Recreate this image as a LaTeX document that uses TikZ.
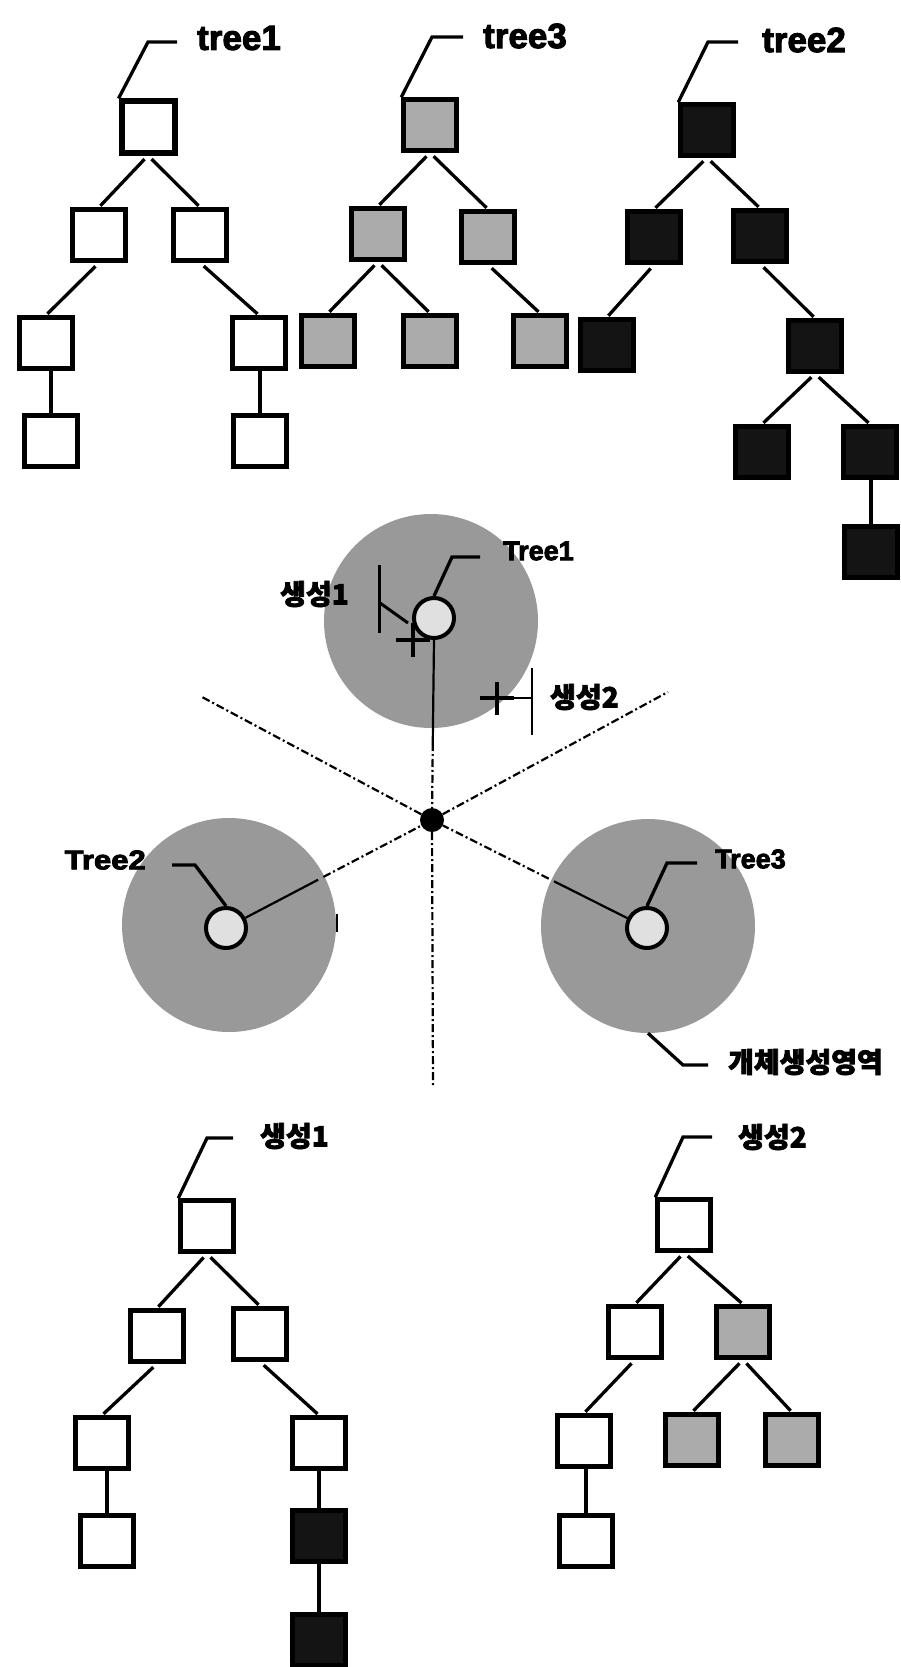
\documentclass[tikz,border=0pt]{standalone}
\usepackage{fontspec}
\setmainfont{Liberation Sans}[BoldFeatures={FakeBold=3}]
\newfontfamily\kr{Noto Sans CJK KR}[BoldFeatures={FakeBold=2.5}]
\usetikzlibrary{calc}
\begin{document}
\begin{tikzpicture}[x=1pt,y=-1pt,
  box/.style={rectangle, draw, line width=4.5pt, minimum width=53pt, minimum height=51pt, inner sep=0pt},
  wb/.style={box, fill=white},
  gb/.style={box, fill=black!33},
  kb/.style={box, fill=black!92},
  edge/.style={line width=3.3pt, shorten <=5pt, shorten >=2pt},
  vedge/.style={line width=3.8pt},
  lead/.style={line width=3.3pt},
  lbl/.style={font=\bfseries\fontsize{35}{40}\selectfont, inner sep=0pt, anchor=west},
  krl/.style={font=\kr\bfseries\fontsize{28}{32}\selectfont, inner sep=0pt},
  midl/.style={font=\bfseries\fontsize{27}{30}\selectfont, inner sep=0pt},
  zone/.style={circle, fill=black!40, minimum size=214pt, inner sep=0pt},
  seed/.style={circle, draw, line width=4pt, fill=black!12, minimum size=40pt, inner sep=0pt},
  ray/.style={line width=2.2pt, dash pattern=on 8pt off 3pt on 2pt off 3pt},
  thinline/.style={line width=2.2pt},
  crossmark/.style={line width=4.5pt}
]
\fill[white] (0,0) rectangle (901,1667);
\useasboundingbox (0,0) rectangle (901,1667);

% ---------- tree1 ----------
\node[wb, line width=6pt] (t1r) at (148,127) {};
\node[wb] (t1a) at (99,235) {};
\node[wb] (t1b) at (200,235) {};
\node[wb] (t1c) at (46,343) {};
\node[wb] (t1d) at (259,343) {};
\node[wb] (t1e) at (51,441) {};
\node[wb] (t1f) at (260,441) {};
\draw[edge] (t1r.south) -- (t1a.north);
\draw[edge] (t1r.south) -- (t1b.north);
\draw[edge] (t1a.south) -- (t1c.north);
\draw[edge] (t1b.south) -- (t1d.north);
\draw[vedge] (t1e.north) -- (t1e.north |- t1c.south);
\draw[vedge] (t1f.north) -- (t1f.north |- t1d.south);
\node[lbl] (L1) at (197,38) {tree1};
\coordinate (L1a) at (148,42);
\coordinate (L1b) at (177,42);
\draw[lead] (t1r.north west) -- (L1a) -- (L1b);

% ---------- tree3 ----------
\node[gb] (t3r) at (430,125) {};
\node[gb] (t3a) at (378,234) {};
\node[gb] (t3b) at (488,237) {};
\node[gb] (t3c) at (328,341) {};
\node[gb] (t3d) at (430,341) {};
\node[gb] (t3e) at (540,341) {};
\draw[edge] (t3r.south) -- (t3a.north);
\draw[edge] (t3r.south) -- (t3b.north);
\draw[edge] (t3a.south) -- (t3c.north);
\draw[edge] (t3a.south) -- (t3d.north);
\draw[edge] (t3b.south) -- (t3e.north);
\node[lbl] (L3) at (483,36) {tree3};
\coordinate (L3a) at (432,37);
\coordinate (L3b) at (463,37);
\draw[lead] (t3r.north west) -- (L3a) -- (L3b);

% ---------- tree2 ----------
\node[kb] (t2r) at (707,130) {};
\node[kb] (t2a) at (654,237) {};
\node[kb] (t2b) at (760,236) {};
\node[kb] (t2c) at (607,345) {};
\node[kb] (t2d) at (815,346) {};
\node[kb] (t2e) at (762,452) {};
\node[kb] (t2f) at (870,452) {};
\node[kb] (t2g) at (871,552) {};
\draw[edge] (t2r.south) -- (t2a.north);
\draw[edge] (t2r.south) -- (t2b.north);
\draw[edge] (t2a.south) -- (t2c.north);
\draw[edge] (t2b.south) -- (t2d.north);
\draw[edge] (t2d.south) -- (t2e.north);
\draw[edge] (t2d.south) -- (t2f.north);
\draw[vedge] (t2g.north) -- (t2g.north |- t2f.south);
\node[lbl] (L2) at (762,40) {tree2};
\coordinate (L2a) at (708,42);
\coordinate (L2b) at (738,42);
\draw[lead] (t2r.north west) -- (L2a) -- (L2b);

% ---------- middle: zones ----------
\node[zone] (c1b) at (431,621) {};
\node[zone] (c2b) at (229,925) {};
\node[zone] (c3b) at (648,926) {};
\node[circle, fill=black, minimum width=22pt, minimum height=24pt, inner sep=0pt] (dot) at (432,820) {};
\node[seed] (c1s) at (434,618) {};
\node[seed] (c2s) at (226,928) {};
\node[seed] (c3s) at (647,928) {};

% rays
\coordinate (rUL) at (202,697);
\coordinate (rUR) at (668,692);
\coordinate (rD) at (433,1088);
\draw[ray] (dot) -- (rUL);
\draw[ray] (dot) -- (rUR);
\draw[ray] (dot) -- (rD);
\draw[thinline] (c1s.south) -- ($(c1s)!125pt!(dot)$);
\draw[ray] ($(c1s)!125pt!(dot)$) -- (dot);
\draw[thinline] (c2s) -- ($(c2s)!104pt!(dot)$);
\draw[ray] ($(c2s)!110pt!(dot)$) -- (dot);
\draw[thinline] (c3s) -- ($(c3s)!104pt!(dot)$);
\draw[ray] ($(c3s)!110pt!(dot)$) -- (dot);
\draw[line width=2.5pt] (337,914) -- (337,932);

% labels in the middle
\node[midl, anchor=west] (M1) at (503,551) {Tree1};
\coordinate (M1a) at (452,557);
\coordinate (M1b) at (480,557);
\draw[lead] (c1s.north) -- (M1a) -- (M1b);
\node[midl, anchor=east, xscale=1.15] (M2) at (146,860) {Tree2};
\coordinate (M2a) at (172,865);
\coordinate (M2b) at (195,865);
\draw[lead] (M2a) -- (M2b) -- (c2s.north);
\node[midl, anchor=west] (M3) at (715,859) {Tree3};
\coordinate (M3a) at (667,863);
\coordinate (M3b) at (697,863);
\draw[lead] (c3s.north) -- (M3a) -- (M3b);
\node[krl, anchor=west] (M4) at (728,1062) {개체생성영역};
\coordinate (M4a) at (683,1065);
\coordinate (M4b) at (708,1065);
\draw[lead] (c3b.south) -- (M4a) -- (M4b);

% generation marks
\node[krl, anchor=east] (G1) at (349,594) {생성1};
\coordinate (x1) at (413,640);
\draw[line width=3pt] (379,565) -- (379,633);
\draw[line width=3pt] (380,603) -- (408,623);
\draw[crossmark] ($(x1)+(-17,0)$) -- ($(x1)+(17,0)$);
\draw[crossmark] ($(x1)+(0,-17)$) -- ($(x1)+(0,17)$);
\node[krl, anchor=west] (G2) at (550,697) {생성2};
\coordinate (x2) at (497,698);
\draw[crossmark] ($(x2)+(-17,0)$) -- ($(x2)+(17,0)$);
\draw[crossmark] ($(x2)+(0,-16)$) -- ($(x2)+(0,17)$);
\draw[line width=2.5pt] (x2) -- (532,698);
\draw[line width=2.5pt] (532,668) -- (532,735);

% ---------- 생성1 tree ----------
\node[wb] (s1r) at (207,1226) {};
\node[wb] (s1a) at (157,1336) {};
\node[wb] (s1b) at (260,1334) {};
\node[wb] (s1c) at (102,1443) {};
\node[wb] (s1d) at (319,1443) {};
\node[wb] (s1e) at (107,1541) {};
\node[kb] (s1f) at (319,1536) {};
\node[kb] (s1g) at (319,1640) {};
\draw[edge] (s1r.south) -- (s1a.north);
\draw[edge] (s1r.south) -- (s1b.north);
\draw[edge] (s1a.south) -- (s1c.north);
\draw[edge] (s1b.south) -- (s1d.north);
\draw[vedge] (s1e.north) -- (s1e.north |- s1c.south);
\draw[vedge] (s1f.north) -- (s1d.south);
\draw[vedge] (s1g.north) -- (s1f.south);
\node[krl, anchor=west] (S1) at (260,1136) {생성1};
\coordinate (S1a) at (207,1138);
\coordinate (S1b) at (233,1138);
\draw[lead] (s1r.north west) -- (S1a) -- (S1b);

% ---------- 생성2 tree ----------
\node[wb] (s2r) at (684,1225) {};
\node[wb] (s2a) at (635,1332) {};
\node[gb] (s2b) at (743,1332) {};
\node[wb] (s2c) at (584,1441) {};
\node[gb] (s2d) at (692,1440) {};
\node[gb] (s2e) at (792,1440) {};
\node[wb] (s2f) at (586,1541) {};
\draw[edge] (s2r.south) -- (s2a.north);
\draw[edge] (s2r.south) -- (s2b.north);
\draw[edge] (s2a.south) -- (s2c.north);
\draw[edge] (s2b.south) -- (s2d.north);
\draw[edge] (s2b.south) -- (s2e.north);
\draw[vedge] (s2f.north) -- (s2f.north |- s2c.south);
\node[krl, anchor=west] (S2) at (738,1137) {생성2};
\coordinate (S2a) at (683,1137);
\coordinate (S2b) at (712,1137);
\draw[lead] (s2r.north west) -- (S2a) -- (S2b);
\end{tikzpicture}
\end{document}
